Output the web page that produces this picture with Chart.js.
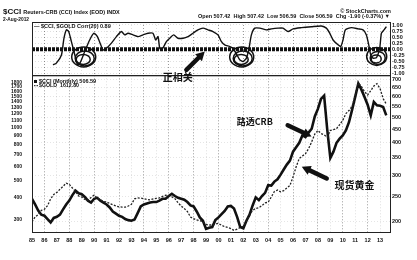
<!DOCTYPE html>
<html>
<head>
<meta charset="utf-8">
<script src="https://cdn.jsdelivr.net/npm/chart.js@4.4.1/dist/chart.umd.min.js"></script>
<style>
  html, body { margin: 0; padding: 0; background: #fff; }
  #wrap { position: relative; width: 417px; height: 260px; overflow: hidden; background: #fff; }
  #corrChart { position: absolute; left: 0; top: 0; z-index: 2; }
  #priceChart { position: absolute; left: 0; top: 70px; z-index: 1; }
</style>
</head>
<body>
<div id="wrap">
  <canvas id="corrChart" width="417" height="90"></canvas>
  <canvas id="priceChart" width="417" height="190"></canvas>
</div>
<script>
// Etiquetas del eje X (años)
const yearLabels = ['85','86','87','88','89','90','91','92','93','94','95','96','97','98','99',
                    '00','01','02','03','04','05','06','07','08','09','10','11','12','13'];
const corrTicks = [1.00, 0.75, 0.50, 0.25, 0.00, -0.25, -0.50, -0.75, -1.00];
const goldTicks = [300, 400, 500, 600, 700, 800, 900, 1000, 1100, 1200, 1300, 1400, 1500, 1600, 1700, 1800];
const cciTicks = [200, 250, 300, 350, 400, 450, 500, 550, 600, 650, 700];

// Correlación $CCI / $GOLD (20)
const corrYears = [1986.69, 1986.96, 1987.37, 1987.57, 1987.77, 1987.95, 1988.17, 1988.38, 1988.57, 1988.70,
  1988.92, 1989.24, 1989.64, 1989.99, 1990.26, 1990.53, 1990.71, 1990.99, 1991.39, 1991.79,
  1992.19, 1992.46, 1992.72, 1993.13, 1993.53, 1993.93, 1994.33, 1994.73, 1994.95, 1995.14,
  1995.27, 1995.41, 1995.60, 1995.81, 1996.08, 1996.40, 1996.75, 1997.15, 1997.55, 1997.95,
  1998.35, 1998.76, 1999.16, 1999.56, 1999.96, 2000.24, 2000.50, 2000.90, 2001.17, 2001.49,
  2001.71, 2001.98, 2002.25, 2002.46, 2002.65, 2002.92, 2003.33, 2003.86, 2004.26, 2004.79,
  2005.19, 2005.60, 2006.00, 2006.67, 2007.48, 2008.28, 2008.68, 2008.95, 2009.22, 2009.62,
  2009.84, 2010.02, 2010.21, 2010.70, 2011.23, 2011.63, 2011.90, 2012.09, 2012.25, 2012.43,
  2012.71, 2012.97, 2013.11, 2013.32, 2013.51];
const corrValues = [-0.65, -0.58, -0.24, 0.45, 0.80, 0.73, 0.31, -0.10, -0.51, -0.65,
  -0.51, -0.10, 0.38, 0.66, 0.52, 0.18, -0.03, 0.04, 0.25, 0.52,
  0.73, 0.59, 0.66, 0.59, 0.52, 0.59, 0.66, 0.66, 0.38, 0.52,
  0.04, -0.03, 0.11, 0.31, 0.45, 0.59, 0.45, 0.45, 0.52, 0.66,
  0.80, 0.87, 0.80, 0.73, 0.59, 0.31, 0.18, 0.11, 0.04, -0.24,
  -0.44, -0.51, -0.37, 0.04, 0.59, 0.87, 0.87, 0.80, 0.84, 0.87,
  0.87, 0.73, 0.84, 0.89, 0.93, 0.96, 0.87, 0.66, 0.38, 0.18,
  0.11, 0.38, 0.80, 0.89, 0.84, 0.80, 0.59, 0.18, -0.24, -0.37,
  -0.35, 0.04, 0.66, 0.80, 0.93];

// Precios trimestrales desde 1985.0 (eje derecho: $CCI, eje izquierdo: $GOLD)
const priceStart = 1985;
const priceStep = 0.25;
const cciValues = [
  244, 232, 220, 212,   210, 204, 198, 206,   208, 212, 222, 232,   240, 252, 262, 256,
  254, 248, 240, 236,   244, 246, 240, 236,   232, 226, 218, 214,   210, 208, 204, 202,
  201, 203, 215, 228,   232, 234, 236, 237,   237, 240, 244, 244,   250, 255, 250, 246,
  244, 242, 237, 230,   228, 218, 207, 201,   187, 189, 190, 202,   207, 213, 219, 228,
  229, 224, 208, 190,   188, 201, 212, 230,   247, 241, 250, 257,   275, 274, 284, 290,
  302, 316, 330, 342,   370, 385, 400, 427,   421, 438, 453, 505,   540, 590, 607, 450,
  350, 370, 400, 415,   427, 446, 480, 535,   600, 676, 640, 600,   560, 510, 574, 557,
  555, 549, 510];
const goldValues = [
  293, 312, 322, 340,   345, 362, 395, 418,   430, 448, 465, 485,   478, 455, 435, 410,
  405, 392, 388, 402,   415, 400, 390, 382,   380, 372, 366, 360,   356, 355, 355, 360,
  368, 395, 400, 399,   396, 392, 390, 395,   398, 400, 408, 414,   412, 406, 396, 375,
  360, 348, 335, 312,   305, 300, 298, 293,   283, 281, 281, 284,   287, 280, 275, 272,
  268, 262, 266, 272,   276, 295, 320, 340,   349, 352, 362, 375,   378, 405, 435, 443,
  433, 440, 455, 470,   527, 600, 669, 690,   712, 760, 831, 920,   964, 927, 910, 883,
  964, 975, 988, 1040,  1100, 1200, 1250, 1320, 1524, 1790, 1710, 1600, 1530, 1620, 1720, 1776,
  1664, 1460, 1360];

// Anotaciones (posición en unidades de los ejes)
const circleNotes = [
  { year: 1989.16, value: -0.32, rx: 12, ry: 10 },
  { year: 2001.87, value: -0.32, rx: 12, ry: 10 },
  { year: 2012.73, value: -0.30, rx: 10, ry: 9 }
];
const corrNote = { text: '正相关', at: [1996.72, -1.145], from: [1997.42, -0.855], to: [1998.9, -0.1] };
const priceNotes = [
  { text: '路透CRB', size: 9, at: [2002.92, 483], from: [2005.57, 467], to: [2007.49, 423] },
  { text: '现货黄金', size: 10, at: [2010.95, 274], from: [2008.71, 292], to: [2006.70, 324] }
];

const xMin = 1985, xMax = 2013.8;
const yearTicks = yearLabels.map((s, i) => 1985 + i);
const fam = "'Liberation Sans', Arial, sans-serif";
const tickFont = { family: fam, size: 5.5, weight: 'bold' };
const cjk = "'Noto Sans CJK SC', 'Noto Sans', sans-serif";

function setTicks(list) {
  return scale => { scale.ticks = list.map(v => ({ value: v })); };
}
function yearGrid(ctx) {
  if (!ctx.tick) return 'rgba(0,0,0,0)';
  return ctx.tick.value % 2 === 0 ? 'rgba(0,0,0,0.4)' : 'rgba(0,0,0,0.13)';
}

function drawArrow(ctx, x1, y1, x2, y2) {
  const ang = Math.atan2(y2 - y1, x2 - x1);
  const head = 10;
  ctx.save();
  ctx.strokeStyle = '#111';
  ctx.fillStyle = '#111';
  ctx.lineWidth = 4.5;
  ctx.lineCap = 'round';
  ctx.beginPath();
  ctx.moveTo(x1, y1);
  ctx.lineTo(x2 - Math.cos(ang) * head * 0.7, y2 - Math.sin(ang) * head * 0.7);
  ctx.stroke();
  ctx.beginPath();
  ctx.moveTo(x2, y2);
  ctx.lineTo(x2 - head * Math.cos(ang - 0.5), y2 - head * Math.sin(ang - 0.5));
  ctx.lineTo(x2 - head * Math.cos(ang + 0.5), y2 - head * Math.sin(ang + 0.5));
  ctx.closePath();
  ctx.fill();
  ctx.restore();
}

function frame(chart) {
  const { ctx, chartArea: a } = chart;
  ctx.save();
  ctx.strokeStyle = '#222';
  ctx.lineWidth = 1;
  ctx.strokeRect(a.left + 0.5, a.top + 0.5, a.right - a.left, a.bottom - a.top);
  ctx.restore();
}

// Panel superior: cabecera, marco, círculos y flecha
const corrDecor = {
  id: 'corrDecor',
  afterDraw(chart) {
    const { ctx, scales: { x, y } } = chart;
    frame(chart);
    ctx.save();
    ctx.fillStyle = '#111';
    ctx.textBaseline = 'middle';
    ctx.font = 'bold 8px ' + fam;
    ctx.fillText('$CCI', 3, 12);
    const w = ctx.measureText('$CCI').width;
    ctx.font = 'bold 5.5px ' + fam;
    ctx.fillText('Reuters-CRB (CCI) Index (EOD) INDX', 5 + w, 12.5, 125);
    ctx.fillText('2-Aug-2012', 3, 19.5, 26);
    ctx.fillText('Open 507.42  High 507.42  Low 506.59  Close 506.59  Chg -1.90 (-0.37%) ▼', 198, 16, 192);
    ctx.textAlign = 'right';
    ctx.fillText('© StockCharts.com', 391, 11, 52);
    ctx.textAlign = 'left';
    ctx.fillText('— $CCI, $GOLD Corr(20) 0.89', 34, 26.5, 88);

    // círculos a mano
    ctx.strokeStyle = '#111';
    ctx.lineWidth = 1.5;
    circleNotes.forEach(c => {
      const cx = x.getPixelForValue(c.year), cy = y.getPixelForValue(c.value);
      [[0, 0, 0], [1, 1.5, -2.5], [-0.5, 2.5, -5]].forEach(([dx, dy, dr]) => {
        ctx.beginPath();
        ctx.ellipse(cx + dx, cy + dy, c.rx + dr, c.ry + dr, 0, 0, Math.PI * 2);
        ctx.stroke();
      });
    });

    drawArrow(ctx, x.getPixelForValue(corrNote.from[0]), y.getPixelForValue(corrNote.from[1]),
                   x.getPixelForValue(corrNote.to[0]), y.getPixelForValue(corrNote.to[1]));
    ctx.font = 'bold 10px ' + cjk;
    ctx.textAlign = 'center';
    ctx.fillText(corrNote.text, x.getPixelForValue(corrNote.at[0]), y.getPixelForValue(corrNote.at[1]));
    ctx.restore();
  }
};

// Panel inferior: marco, leyenda y anotaciones
const priceDecor = {
  id: 'priceDecor',
  afterDraw(chart) {
    const { ctx, scales: { x, yCci } } = chart;
    frame(chart);
    ctx.save();
    ctx.fillStyle = '#111';
    ctx.textBaseline = 'middle';
    ctx.fillRect(34, 10, 3, 3);
    ctx.font = 'bold 5.5px ' + fam;
    ctx.fillText('$CCI (Monthly) 506.59', 39, 11.7, 66);
    ctx.strokeStyle = '#111';
    ctx.lineWidth = 1;
    ctx.setLineDash([1.5, 1]);
    ctx.beginPath();
    ctx.moveTo(34, 15.7);
    ctx.lineTo(38, 15.7);
    ctx.stroke();
    ctx.setLineDash([]);
    ctx.fillText('$GOLD  1612.80', 39, 15.7, 40);

    priceNotes.forEach(n => {
      drawArrow(ctx, x.getPixelForValue(n.from[0]), yCci.getPixelForValue(n.from[1]),
                     x.getPixelForValue(n.to[0]), yCci.getPixelForValue(n.to[1]));
      ctx.font = 'bold ' + n.size + 'px ' + cjk;
      ctx.textAlign = 'center';
      ctx.fillText(n.text, x.getPixelForValue(n.at[0]), yCci.getPixelForValue(n.at[1]));
    });
    ctx.restore();
  }
};

new Chart(document.getElementById('corrChart'), {
  type: 'line',
  data: {
    datasets: [
      {
        label: 'zero',
        data: [{ x: xMin, y: 0 }, { x: xMax, y: 0 }],
        borderColor: '#111',
        borderWidth: 4,
        borderDash: [3, 1],
        pointRadius: 0
      },
      {
        label: '$CCI, $GOLD Corr(20)',
        data: corrYears.map((yr, i) => ({ x: yr, y: corrValues[i] })),
        borderColor: '#111',
        borderWidth: 1.4,
        pointRadius: 0,
        tension: 0.2
      }
    ]
  },
  options: {
    responsive: false,
    animation: false,
    events: [],
    layout: { padding: { left: 32, top: 22, right: 0, bottom: 0 } },
    plugins: { legend: { display: false }, tooltip: { enabled: false } },
    scales: {
      x: {
        type: 'linear', min: xMin, max: xMax,
        afterBuildTicks: setTicks(yearTicks),
        ticks: { display: false },
        grid: { color: yearGrid, drawTicks: false },
        border: { display: false, dash: [1, 2] },
        afterFit: s => { s.height = 15; }
      },
      y: {
        position: 'right', min: -1.07, max: 1.124,
        afterBuildTicks: setTicks(corrTicks),
        ticks: { autoSkip: false, font: tickFont, color: '#111', padding: 2, callback: v => v.toFixed(2) },
        grid: { color: 'rgba(0,0,0,0.12)', drawTicks: false },
        border: { display: false, dash: [1, 2] },
        afterFit: s => { s.width = 27; }
      }
    }
  },
  plugins: [corrDecor]
});

new Chart(document.getElementById('priceChart'), {
  type: 'line',
  data: {
    datasets: [
      {
        label: '$GOLD',
        yAxisID: 'yGold',
        data: goldValues.map((v, i) => ({ x: priceStart + i * priceStep, y: v })),
        borderColor: '#222',
        borderWidth: 1.3,
        borderDash: [2, 1.5],
        pointRadius: 0
      },
      {
        label: '$CCI (Monthly)',
        yAxisID: 'yCci',
        data: cciValues.map((v, i) => ({ x: priceStart + i * priceStep, y: v })),
        borderColor: '#111',
        borderWidth: 2.6,
        pointRadius: 0
      }
    ]
  },
  options: {
    responsive: false,
    animation: false,
    events: [],
    layout: { padding: { left: 0, top: 5, right: 0, bottom: 0 } },
    plugins: { legend: { display: false }, tooltip: { enabled: false } },
    scales: {
      x: {
        type: 'linear', min: xMin, max: xMax,
        afterBuildTicks: setTicks(yearTicks),
        ticks: { autoSkip: false, maxRotation: 0, font: tickFont, color: '#111', padding: 5,
                 callback: (v, i) => yearLabels[i] },
        grid: { color: yearGrid, drawTicks: false },
        border: { display: false, dash: [1, 2] },
        afterFit: s => { s.height = 28; }
      },
      yGold: {
        type: 'logarithmic', position: 'left', min: 256.5, max: 1979,
        afterBuildTicks: setTicks(goldTicks),
        ticks: { autoSkip: false, font: { family: fam, size: 5, weight: 'bold' }, color: '#111', padding: 2,
                 callback: v => String(v) },
        grid: { display: false },
        border: { display: false },
        afterFit: s => { s.width = 32; }
      },
      yCci: {
        type: 'logarithmic', position: 'right', min: 181.9, max: 726.5,
        afterBuildTicks: setTicks(cciTicks),
        ticks: { autoSkip: false, font: tickFont, color: '#111', padding: 2, callback: v => String(v) },
        grid: { color: 'rgba(0,0,0,0.1)', drawTicks: false },
        border: { display: false, dash: [1, 2] },
        afterFit: s => { s.width = 27; }
      }
    }
  },
  plugins: [priceDecor]
});
</script>
</body>
</html>
